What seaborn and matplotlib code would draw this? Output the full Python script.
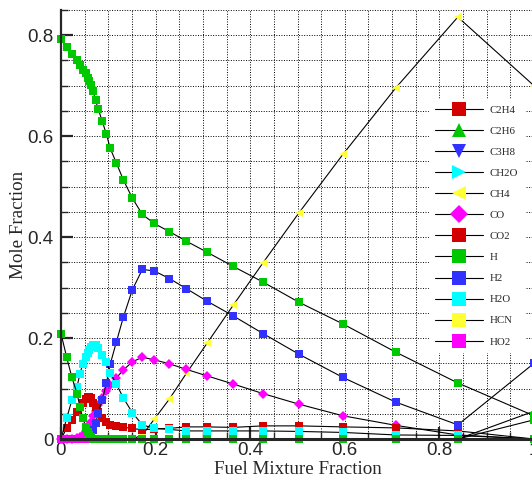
import numpy as np
import pandas as pd
import seaborn as sns
import matplotlib
matplotlib.use("Agg")
import matplotlib.pyplot as plt
from matplotlib.ticker import MultipleLocator

# grid de fração de mistura (comum a todas as espécies)
MIX = [0.0, 0.012, 0.023, 0.034, 0.040, 0.046, 0.053, 0.058, 0.060, 0.063,
       0.068, 0.073, 0.079, 0.087, 0.096, 0.104, 0.117, 0.132, 0.151, 0.172,
       0.197, 0.229, 0.265, 0.309, 0.364, 0.427, 0.503, 0.596, 0.708, 0.839, 1.0]

ZERO = [0.0] * 31

C2H4 = ZERO
C2H6 = [0.0] * 30 + [0.055]
C3H8 = ZERO
CH2O = ZERO
CH4 = [0.0] * 19 + [0.008, 0.039, 0.079, 0.130, 0.190, 0.265, 0.349, 0.448,
                    0.564, 0.696, 0.836, 0.700]
CO = [0.0, 0.0, 0.0, 0.002, 0.004, 0.008, 0.015, 0.022, 0.027, 0.033,
      0.045, 0.056, 0.068, 0.082, 0.096, 0.107, 0.121, 0.137, 0.153, 0.162,
      0.157, 0.149, 0.138, 0.125, 0.109, 0.090, 0.069, 0.046, 0.027, 0.008, 0.0]
CO2 = [0.0, 0.021, 0.038, 0.054, 0.064, 0.071, 0.079, 0.084, 0.084, 0.081,
       0.071, 0.064, 0.054, 0.041, 0.034, 0.028, 0.026, 0.023, 0.021, 0.018,
       0.020, 0.021, 0.024, 0.024, 0.023, 0.026, 0.026, 0.024, 0.022, 0.016, 0.0]
H = [0.0] * 30 + [0.038]
H2 = [0.0] * 10 + [0.018, 0.032, 0.051, 0.077, 0.110, 0.148, 0.192, 0.242,
                   0.296, 0.336, 0.333, 0.318, 0.298, 0.273, 0.244, 0.209,
                   0.168, 0.122, 0.073, 0.028, 0.150]
H2O = [0.0, 0.041, 0.077, 0.104, 0.129, 0.149, 0.163, 0.170, 0.176, 0.182,
       0.186, 0.186, 0.180, 0.166, 0.153, 0.131, 0.109, 0.081, 0.052, 0.028,
       0.021, 0.019, 0.016, 0.016, 0.016, 0.016, 0.015, 0.013, 0.008, 0.007, 0.0]
HCN = ZERO
HO2 = ZERO
N2 = [0.792, 0.776, 0.762, 0.750, 0.741, 0.731, 0.725, 0.715, 0.709, 0.701,
      0.689, 0.671, 0.653, 0.630, 0.604, 0.576, 0.547, 0.513, 0.477, 0.445,
      0.427, 0.411, 0.392, 0.370, 0.342, 0.311, 0.271, 0.228, 0.172, 0.111, 0.046]
O2 = [0.209, 0.162, 0.122, 0.090, 0.064, 0.041, 0.024, 0.014, 0.008, 0.003] + [0.0] * 21

X_TICKS = [0, 0.2, 0.4, 0.6, 0.8, 1.0]
X_TICK_LABELS = ["0", "0.2", "0.4", "0.6", "0.8", "1"]
Y_TICKS = [0, 0.2, 0.4, 0.6, 0.8]
Y_TICK_LABELS = ["0", "0.2", "0.4", "0.6", "0.8"]

RED, GREEN, BLUE = "#d20000", "#00c800", "#3232ff"
CYAN, YELLOW, MAGENTA = "#00ffff", "#ffff33", "#ff00ff"

# (nome, dados, cor, marcador, na legenda?)
SPECIES = [
    ("C2H4", C2H4, RED, "s", True),
    ("C2H6", C2H6, GREEN, "^", True),
    ("C3H8", C3H8, BLUE, "v", True),
    ("CH2O", CH2O, CYAN, ">", True),
    ("CH4", CH4, YELLOW, "<", True),
    ("CO", CO, MAGENTA, "D", True),
    ("CO2", CO2, RED, "s", True),
    ("H", H, GREEN, "s", True),
    ("H2", H2, BLUE, "s", True),
    ("H2O", H2O, CYAN, "s", True),
    ("HCN", HCN, YELLOW, "s", True),
    ("HO2", HO2, MAGENTA, "s", True),
    ("N2", N2, GREEN, "s", False),
    ("O2", O2, GREEN, "s", False),
]

sns.set_style("ticks")
plt.rcParams["font.family"] = ["Liberation Sans", "DejaVu Sans"]

fig = plt.figure(figsize=(5.32, 4.83), dpi=100)
ax = fig.add_axes([61 / 532, 44 / 483, 473 / 532, 429 / 483])

for name, vals, color, marker, in_legend in SPECIES:
    size = {"s": 5.2, "D": 5.0, "<": 5.5}.get(marker, 5.5)
    sns.lineplot(x=MIX, y=vals, ax=ax, color="black", lw=0.8,
                 marker=marker, markersize=size, markerfacecolor=color,
                 markeredgecolor=color, markeredgewidth=0,
                 errorbar=None, clip_on=False,
                 label=name if in_legend else "_nolegend_")

ax.set_xlim(0, 1.0)
ax.set_ylim(0, 0.85)
ax.set_xticks(X_TICKS)
ax.set_xticklabels(X_TICK_LABELS)
ax.set_yticks(Y_TICKS)
ax.set_yticklabels(Y_TICK_LABELS)
ax.xaxis.set_minor_locator(MultipleLocator(0.05))
ax.yaxis.set_minor_locator(MultipleLocator(0.05))

ax.grid(which="both", color="black", linestyle=(0, (1, 1.6)), linewidth=0.7)
ax.set_axisbelow(True)

ax.tick_params(which="major", direction="in", length=8.5, width=1.6,
               labelsize=13.5, top=False, right=False)
ax.tick_params(axis="y", which="major", pad=5.5)
ax.tick_params(axis="x", which="major", pad=2.5)
ax.tick_params(which="minor", direction="in", length=5, width=1.0,
               top=False, right=False)

for side in ["top", "right"]:
    ax.spines[side].set_visible(False)
ax.spines["left"].set_linewidth(1.6)
ax.spines["bottom"].set_linewidth(2.2)

ax.set_xlabel("Fuel Mixture Fraction", family="Liberation Serif", fontsize=13.7, labelpad=1)
ax.set_ylabel("Mole Fraction", family="Liberation Serif", fontsize=13.7, labelpad=0)

leg = ax.legend(loc="upper left", bbox_to_anchor=(0.778, 0.792), borderaxespad=0,
                prop={"family": "Liberation Serif", "size": 7.8},
                frameon=True, fancybox=False, framealpha=1, facecolor="white",
                edgecolor="white", markerscale=1.8, handlelength=4.4,
                handletextpad=0.65, labelspacing=1.06, borderpad=0.55)
leg.set_zorder(5)

fig.savefig("out.png", dpi=100)
